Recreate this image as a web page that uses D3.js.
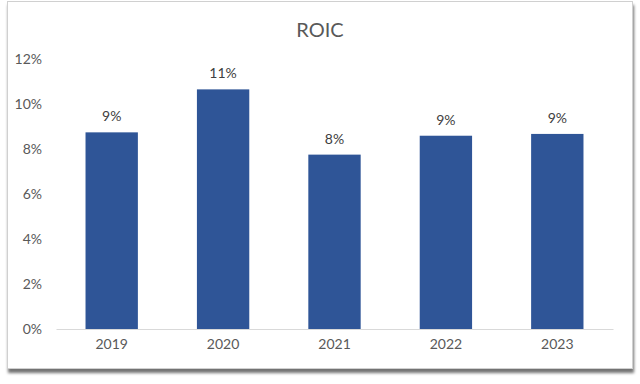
<!DOCTYPE html>
<html>
<head>
<meta charset="utf-8">
<script src="https://cdn.jsdelivr.net/npm/d3@7"></script>
<style>
  body { margin: 0; background: #ffffff; }
  text { font-family: Lato, "Open Sans", sans-serif; fill: #595959; }
</style>
</head>
<body>
<div id="chart-container"></div>
<script>
// Chart data
const years = ["2019", "2020", "2021", "2022", "2023"];
const roic = [8.74, 10.65, 7.75, 8.59, 8.67];
const labels = ["9%", "11%", "8%", "9%", "9%"];
const yTicks = [0, 2, 4, 6, 8, 10, 12];

const W = 640, H = 384;
const margin = { top: 59, right: 27, bottom: 55, left: 56 };
const width = W - margin.left - margin.right;
const height = H - margin.top - margin.bottom;

const svg = d3.select("#chart-container")
    .append("svg")
    .attr("width", W)
    .attr("height", H);

// Drop shadow for the frame
const defs = svg.append("defs");
const shadow = defs.append("filter")
    .attr("id", "shadow")
    .attr("x", "-5%").attr("y", "-5%")
    .attr("width", "110%").attr("height", "115%");
shadow.append("feDropShadow")
    .attr("dx", 1).attr("dy", 4)
    .attr("stdDeviation", 1.5)
    .attr("flood-color", "#000")
    .attr("flood-opacity", 0.55);

// Chart frame
svg.append("rect")
    .attr("x", 7.5).attr("y", 1.5)
    .attr("width", 625).attr("height", 367)
    .attr("fill", "#fff")
    .attr("stroke", "#d0d0d0")
    .attr("stroke-width", 1)
    .attr("filter", "url(#shadow)");

const g = svg.append("g")
    .attr("transform", `translate(${margin.left},${margin.top})`);

const x = d3.scaleBand()
    .domain(years)
    .range([0, width])
    .paddingInner(0.53)
    .paddingOuter(0.265);

const y = d3.scaleLinear()
    .domain([0, 12])
    .range([height, 0]);

// Title
svg.append("text")
    .attr("x", W / 2)
    .attr("y", 37)
    .attr("text-anchor", "middle")
    .style("font-size", "20px")
    .text("ROIC");

// Y axis labels
g.append("g")
    .call(d3.axisLeft(y).tickValues(yTicks).tickFormat(d => d + "%").tickSize(0).tickPadding(14))
    .call(a => a.select(".domain").remove())
    .selectAll("text")
    .style("font-size", "14px")
    .style("font-family", "Lato, 'Open Sans', sans-serif")
    .attr("fill", "#595959");

// Bars
g.selectAll(".bar")
    .data(years)
    .join("rect")
    .attr("class", "bar")
    .attr("x", d => x(d))
    .attr("y", (d, i) => y(roic[i]))
    .attr("width", x.bandwidth())
    .attr("height", (d, i) => height - y(roic[i]))
    .attr("fill", "#2f5597");

// Data labels
g.selectAll(".lbl")
    .data(years)
    .join("text")
    .attr("class", "lbl")
    .attr("x", d => x(d) + x.bandwidth() / 2)
    .attr("y", (d, i) => y(roic[i]) - 11)
    .attr("text-anchor", "middle")
    .style("font-size", "14px")
    .style("fill", "#404040")
    .text((d, i) => labels[i]);

// X axis
g.append("g")
    .attr("transform", `translate(0,${height})`)
    .call(d3.axisBottom(x).tickSize(0).tickPadding(10))
    .call(a => a.select(".domain").attr("stroke", "#d9d9d9").attr("stroke-width", 1))
    .selectAll("text")
    .style("font-size", "14px")
    .style("font-family", "Lato, 'Open Sans', sans-serif")
    .attr("fill", "#595959");
</script>
</body>
</html>
